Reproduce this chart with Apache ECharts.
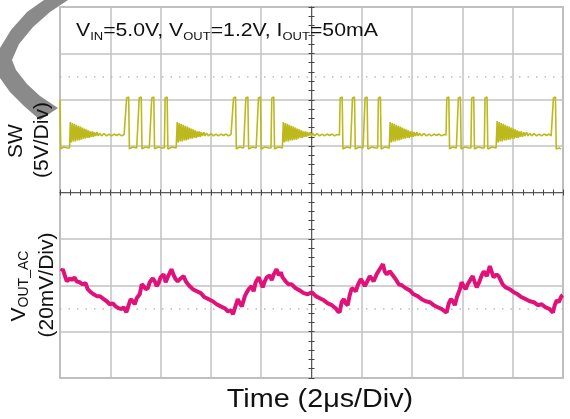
<!DOCTYPE html>
<html>
<head>
<meta charset="utf-8">
<script src="https://cdn.jsdelivr.net/npm/echarts@6/dist/echarts.min.js"></script>
<style>
  html, body { margin: 0; padding: 0; background: #fff; }
  #chart { width: 570px; height: 419px; }
</style>
</head>
<body>
<div id="chart"></div>
<script>
// time axis: 2 us/div, 10 divisions
const timeTicks = [0, 2, 4, 6, 8, 10, 12, 14, 16, 18, 20];

// SW node voltage [time us, volts], 5 V/div
const swTrace = [
  // tail of previous pulse at the left edge
  [0.00, 5.0], [0.03, -0.3], [0.15, -0.1], [0.30, -0.2], [0.38, -0.2],
  // ringing after burst
  [0.41, 2.6], [0.45, 0.4], [0.49, 2.5], [0.53, 0.5], [0.57, 2.4], [0.61, 0.5], [0.65, 2.3], [0.69, 0.6],
  [0.73, 2.2], [0.77, 0.6], [0.81, 2.1], [0.85, 0.7], [0.89, 2.0], [0.93, 0.8], [0.97, 1.9], [1.01, 0.8],
  [1.05, 1.8], [1.09, 0.9], [1.13, 1.7], [1.17, 0.9], [1.21, 1.6], [1.25, 1.0], [1.29, 1.6], [1.33, 1.0],
  [1.37, 1.5], [1.42, 1.1], [1.47, 1.5], [1.52, 1.1], [1.58, 1.4], [1.65, 1.1],
  // idle (Vout level)
  [1.75, 1.35], [1.85, 1.1], [1.95, 1.3], [2.05, 1.1], [2.15, 1.3], [2.25, 1.15], [2.35, 1.3], [2.45, 1.1],
  [2.55, 1.25], [2.62, 1.2],
  // burst 1
  [2.65, 5.2], [2.73, 5.3], [2.76, -0.3], [2.90, -0.1], [3.05, -0.2], [3.12, -0.2],
  [3.15, 5.2], [3.23, 5.3], [3.26, -0.3], [3.40, -0.1], [3.55, -0.2], [3.62, -0.2],
  [3.65, 5.2], [3.73, 5.3], [3.76, -0.3], [3.90, -0.1], [4.05, -0.2], [4.15, -0.2],
  [4.18, 5.2], [4.26, 5.3], [4.29, -0.3], [4.45, -0.1], [4.62, -0.2],
  [4.66, 2.6], [4.70, 0.4], [4.74, 2.5], [4.78, 0.5], [4.82, 2.4], [4.86, 0.5], [4.90, 2.3], [4.94, 0.6],
  [4.98, 2.2], [5.02, 0.6], [5.06, 2.1], [5.10, 0.7], [5.14, 2.0], [5.18, 0.8], [5.22, 1.9], [5.26, 0.8],
  [5.30, 1.8], [5.34, 0.9], [5.38, 1.7], [5.42, 0.9], [5.46, 1.6], [5.50, 1.0], [5.54, 1.6], [5.58, 1.0],
  [5.62, 1.5], [5.67, 1.1], [5.72, 1.5], [5.77, 1.1], [5.83, 1.4], [5.90, 1.1],
  [6.00, 1.35], [6.10, 1.1], [6.20, 1.3], [6.30, 1.1], [6.40, 1.3], [6.50, 1.15], [6.60, 1.3], [6.70, 1.1],
  [6.80, 1.25], [6.87, 1.2],
  // burst 2
  [6.90, 5.2], [6.98, 5.3], [7.01, -0.3], [7.15, -0.1], [7.30, -0.2], [7.36, -0.2],
  [7.39, 5.2], [7.47, 5.3], [7.50, -0.3], [7.65, -0.1], [7.80, -0.2], [7.86, -0.2],
  [7.89, 5.2], [7.97, 5.3], [8.00, -0.3], [8.15, -0.1], [8.30, -0.2], [8.39, -0.2],
  [8.42, 5.2], [8.50, 5.3], [8.53, -0.3], [8.68, -0.1], [8.84, -0.2],
  [8.88, 2.6], [8.92, 0.4], [8.96, 2.5], [9.00, 0.5], [9.04, 2.4], [9.08, 0.5], [9.12, 2.3], [9.16, 0.6],
  [9.20, 2.2], [9.24, 0.6], [9.28, 2.1], [9.32, 0.7], [9.36, 2.0], [9.40, 0.7], [9.44, 1.9], [9.48, 0.8],
  [9.52, 1.8], [9.56, 0.9], [9.60, 1.7], [9.64, 0.9], [9.68, 1.6], [9.72, 1.0], [9.76, 1.6], [9.80, 1.0],
  [9.84, 1.5], [9.89, 1.1], [9.94, 1.5], [9.99, 1.1], [10.05, 1.4], [10.12, 1.1],
  [10.22, 1.35], [10.32, 1.1], [10.42, 1.3], [10.52, 1.1], [10.62, 1.3], [10.72, 1.15], [10.82, 1.3],
  [10.92, 1.1], [11.02, 1.25], [11.11, 1.2],
  // burst 3
  [11.14, 5.2], [11.22, 5.3], [11.25, -0.3], [11.40, -0.1], [11.55, -0.2], [11.60, -0.2],
  [11.63, 5.2], [11.71, 5.3], [11.74, -0.3], [11.90, -0.1], [12.05, -0.2], [12.10, -0.2],
  [12.13, 5.2], [12.21, 5.3], [12.24, -0.3], [12.40, -0.1], [12.55, -0.2], [12.63, -0.2],
  [12.66, 5.2], [12.74, 5.3], [12.77, -0.3], [12.92, -0.1], [13.09, -0.2],
  [13.13, 2.6], [13.17, 0.4], [13.21, 2.5], [13.25, 0.5], [13.29, 2.4], [13.33, 0.5], [13.37, 2.3], [13.41, 0.6],
  [13.45, 2.2], [13.49, 0.6], [13.53, 2.1], [13.57, 0.7], [13.61, 2.0], [13.65, 0.8], [13.69, 1.9], [13.73, 0.8],
  [13.77, 1.8], [13.81, 0.9], [13.85, 1.7], [13.89, 0.9], [13.93, 1.6], [13.97, 1.0], [14.01, 1.6], [14.05, 1.0],
  [14.09, 1.5], [14.14, 1.1], [14.19, 1.5], [14.24, 1.1], [14.30, 1.4], [14.37, 1.1],
  [14.47, 1.35], [14.57, 1.1], [14.67, 1.3], [14.77, 1.1], [14.87, 1.3], [14.97, 1.15], [15.07, 1.3],
  [15.17, 1.1], [15.27, 1.25], [15.35, 1.2],
  // burst 4
  [15.38, 5.2], [15.46, 5.3], [15.49, -0.3], [15.62, -0.1], [15.76, -0.2], [15.81, -0.2],
  [15.84, 5.2], [15.92, 5.3], [15.95, -0.3], [16.10, -0.1], [16.25, -0.2], [16.34, -0.2],
  [16.37, 5.2], [16.45, 5.3], [16.48, -0.3], [16.63, -0.1], [16.78, -0.2], [16.87, -0.2],
  [16.90, 5.2], [16.98, 5.3], [17.01, -0.3], [17.17, -0.1], [17.34, -0.2],
  [17.38, 2.7], [17.42, 0.4], [17.46, 2.6], [17.50, 0.5], [17.54, 2.5], [17.58, 0.5], [17.62, 2.4], [17.66, 0.6],
  [17.70, 2.3], [17.74, 0.6], [17.78, 2.2], [17.82, 0.7], [17.86, 2.1], [17.90, 0.7], [17.94, 2.0], [17.98, 0.8],
  [18.02, 1.9], [18.06, 0.8], [18.10, 1.8], [18.14, 0.9], [18.18, 1.7], [18.22, 0.9], [18.26, 1.6], [18.30, 1.0],
  [18.34, 1.6], [18.39, 1.0], [18.44, 1.5], [18.49, 1.1], [18.55, 1.5], [18.61, 1.1], [18.68, 1.4], [18.75, 1.1],
  [18.85, 1.35], [18.95, 1.1], [19.05, 1.3], [19.15, 1.1], [19.25, 1.3], [19.35, 1.15], [19.45, 1.3],
  [19.53, 1.1], [19.59, 1.2],
  // burst 5 (first pulse, cut at right edge)
  [19.62, 5.2], [19.70, 5.3], [19.73, -0.3], [19.85, -0.2], [19.92, -0.3]
];

// output ripple, AC coupled [time us, mV], 20 mV/div
const voutTrace = [
  [0.05, 6.0], [0.11, 6.9], [0.19, 4.3], [0.27, 1.7], [0.39, 3.0], [0.47, 2.2], [0.58, 3.4], [0.66, 1.7],
  [0.78, 1.3], [0.90, 0.4], [1.02, 0.9], [1.10, -1.7], [1.22, -3.0], [1.34, -3.9], [1.46, -4.7], [1.58, -4.7],
  [1.74, -6.0], [1.86, -6.9], [1.98, -8.2], [2.10, -7.8], [2.21, -9.1], [2.33, -9.9], [2.45, -10.3], [2.53, -9.5],
  [2.64, -11.6], [2.73, -8.6], [2.81, -6.0], [2.89, -6.9], [2.97, -8.2], [3.05, -5.6], [3.17, -3.9], [3.25, 0.4],
  [3.33, -0.4], [3.41, -1.7], [3.49, -1.3], [3.57, 1.3], [3.69, 3.0], [3.77, 1.7], [3.84, -0.4], [3.92, 0.9],
  [4.00, 3.4], [4.12, 4.7], [4.20, 1.3], [4.28, 3.4], [4.43, 6.9], [4.52, 4.3], [4.60, 2.6], [4.68, 1.7],
  [4.80, 3.0], [4.92, 3.9], [5.00, 1.7], [5.12, 0.0], [5.28, -1.7], [5.44, -2.6], [5.60, -3.4], [5.75, -5.2],
  [5.91, -6.0], [6.07, -6.9], [6.23, -8.2], [6.39, -9.1], [6.55, -9.9], [6.67, -11.2], [6.79, -10.8], [6.88, -12.5],
  [6.99, -8.6], [7.07, -6.0], [7.15, -7.8], [7.23, -9.1], [7.35, -4.7], [7.43, -3.0], [7.50, -1.7], [7.62, -0.4],
  [7.70, -2.6], [7.78, 1.3], [7.90, 3.4], [7.98, 1.3], [8.06, -0.9], [8.14, 1.7], [8.22, 3.4], [8.34, 4.3],
  [8.42, 2.2], [8.50, 4.7], [8.61, 6.9], [8.70, 4.3], [8.78, 5.6], [8.85, 3.4], [8.97, 1.7], [9.09, 0.4],
  [9.21, 0.4], [9.37, -1.3], [9.53, -2.2], [9.69, -3.4], [9.85, -3.9], [10.01, -3.0], [10.17, -4.7], [10.33, -5.6],
  [10.49, -6.5], [10.65, -7.8], [10.81, -8.6], [10.96, -9.9], [11.04, -11.2], [11.12, -11.6], [11.20, -7.3],
  [11.28, -6.0], [11.36, -7.8], [11.44, -8.6], [11.52, -4.3], [11.60, -1.3], [11.68, -1.7], [11.76, -2.6],
  [11.84, 0.0], [11.96, 2.6], [12.04, 1.3], [12.12, -0.4], [12.20, 1.3], [12.32, 3.9], [12.39, 3.0], [12.47, 1.7],
  [12.59, 4.7], [12.71, 6.9], [12.84, 9.1], [12.91, 6.0], [12.99, 4.7], [13.11, 6.0], [13.23, 4.3], [13.35, 2.6],
  [13.47, 0.4], [13.59, 0.0], [13.75, -1.3], [13.91, -2.2], [14.06, -3.9], [14.22, -4.7], [14.38, -6.0],
  [14.54, -6.9], [14.70, -7.3], [14.86, -8.6], [15.02, -9.5], [15.18, -10.3], [15.37, -11.8], [15.46, -7.8],
  [15.54, -6.0], [15.62, -6.9], [15.70, -8.6], [15.78, -5.2], [15.90, -1.7], [15.97, 1.3], [16.05, -0.4],
  [16.13, -1.7], [16.21, 0.4], [16.33, 2.6], [16.41, 3.9], [16.49, 1.3], [16.57, -0.9], [16.65, 0.9], [16.77, 4.3],
  [16.85, 6.0], [16.97, 3.9], [17.09, 8.3], [17.16, 6.0], [17.24, 3.4], [17.36, 4.7], [17.44, 3.9], [17.52, 2.2],
  [17.60, 0.4], [17.72, -0.9], [17.88, -1.7], [18.04, -3.0], [18.20, -3.9], [18.36, -5.2], [18.52, -6.0],
  [18.68, -6.9], [18.84, -7.3], [19.00, -8.6], [19.15, -8.2], [19.31, -9.5], [19.47, -10.3], [19.60, -11.8],
  [19.67, -8.6], [19.75, -6.5], [19.83, -7.3], [19.94, -4.7], [19.99, -4.3]
];

const swLevels = [-25, -20, -15, -10, -5, 0, 5, 10, 15];
const voutLevels = [-40, -20, 0, 20, 40, 60, 80, 100, 120];
const swRefLevel = 7.5;     // dotted reference row, top half
const voutRefLevel = -10;   // dotted reference row, bottom half

const FONT = '"Liberation Sans", Arial, sans-serif';
const GRID_COLOR = '#c2c2c2';

const chart = echarts.init(document.getElementById('chart'));

function centerAxis(min, max, interval, inside) {
  return {
    type: 'value', min: min, max: max, interval: interval,
    axisLine: { show: true, lineStyle: { color: '#5a5a5a', width: 1 } },
    axisTick: { show: true, inside: inside, length: 3, lineStyle: { color: '#444' } },
    minorTick: { show: true, splitNumber: 5, length: 3, lineStyle: { color: '#444' } },
    axisLabel: { show: false },
    splitLine: { show: false }
  };
}

chart.setOption({
  animation: false,
  backgroundColor: '#fff',
  grid: {
    left: 60, right: 7, top: 7, bottom: 41,
    show: true, backgroundColor: '#fff',
    borderColor: '#a0a0a0', borderWidth: 1.5
  },
  xAxis: [
    {
      type: 'value', min: timeTicks[0], max: timeTicks[timeTicks.length - 1], interval: 2,
      axisLine: { show: false }, axisTick: { show: false }, axisLabel: { show: false },
      splitLine: { show: true, lineStyle: { color: GRID_COLOR, width: 1.5 } }
    },
    Object.assign(centerAxis(0, 20, 2, false), { position: 'bottom', offset: -185.5 }),
    Object.assign(centerAxis(0, 20, 2, true), { position: 'bottom', offset: -185.5 })
  ],
  yAxis: [
    {
      type: 'value', min: swLevels[0], max: swLevels[swLevels.length - 1], interval: 5,
      axisLine: { show: false }, axisTick: { show: false }, axisLabel: { show: false },
      splitLine: { show: true, lineStyle: { color: GRID_COLOR, width: 1.5 } }
    },
    {
      type: 'value', min: voutLevels[0], max: voutLevels[voutLevels.length - 1], interval: 20,
      axisLine: { show: false }, axisTick: { show: false }, axisLabel: { show: false },
      splitLine: { show: false }
    },
    Object.assign(centerAxis(0, 8, 1, false), { position: 'left', offset: -251.5 }),
    Object.assign(centerAxis(0, 8, 1, true), { position: 'left', offset: -251.5 })
  ],
  series: [
    {
      name: 'SW', type: 'line', xAxisIndex: 0, yAxisIndex: 0,
      data: swTrace, showSymbol: false, z: 5,
      lineStyle: { color: '#bdb91c', width: 1.6 },
      markLine: {
        silent: true, symbol: 'none', label: { show: false },
        lineStyle: { color: '#bcbcbc', type: [1.5, 7], width: 1.5 },
        data: [{ yAxis: swRefLevel }]
      }
    },
    {
      name: 'VOUT_AC', type: 'line', xAxisIndex: 0, yAxisIndex: 1,
      data: voutTrace, showSymbol: false, z: 5,
      lineStyle: { color: '#e0127a', width: 4 },
      markLine: {
        silent: true, symbol: 'none', label: { show: false },
        lineStyle: { color: '#bcbcbc', type: [1.5, 7], width: 1.5 },
        data: [{ yAxis: voutRefLevel }]
      }
    }
  ],
  graphic: [
    // gray arrow cut off from the figure above
    {
      type: 'polygon', z: -10,
      shape: { points: [[68, 0], [44, 0], [27, 12], [11, 30], [0, 48], [0, 78], [10, 92], [24, 106],
                        [40, 120], [58, 108], [40, 96], [27, 84], [16, 70], [12, 60], [19, 44], [33, 27], [50, 12]] },
      style: { fill: '#8a8a8a' }
    },
    {
      type: 'text', x: 76, y: 31, scaleX: 1.18, z: 10,
      style: {
        text: '{m|V}{s|IN}{m|=5.0V, V}{s|OUT}{m|=1.2V, I}{s|OUT}{m|=50mA}',
        verticalAlign: 'middle',
        rich: {
          m: { fontSize: 18, fontFamily: FONT, fill: '#111', lineHeight: 22 },
          s: { fontSize: 11, fontFamily: FONT, fill: '#111', lineHeight: 14, verticalAlign: 'bottom' }
        }
      }
    },
    {
      type: 'text', x: 16, y: 141, rotation: Math.PI / 2, z: 10,
      style: { text: 'SW', fontSize: 21, fontFamily: FONT, fill: '#111', align: 'center', verticalAlign: 'middle' }
    },
    {
      type: 'text', x: 42, y: 140, rotation: Math.PI / 2, z: 10,
      style: { text: '(5V/Div)', fontSize: 21, fontFamily: FONT, fill: '#111', align: 'center', verticalAlign: 'middle' }
    },
    {
      type: 'text', x: 19, y: 286, rotation: Math.PI / 2, z: 10,
      style: {
        text: '{m|V}{s|OUT_AC}',
        align: 'center', verticalAlign: 'middle',
        rich: {
          m: { fontSize: 21, fontFamily: FONT, fill: '#111', lineHeight: 24 },
          s: { fontSize: 14, fontFamily: FONT, fill: '#111', lineHeight: 16, verticalAlign: 'bottom' }
        }
      }
    },
    {
      type: 'text', x: 47, y: 285, rotation: Math.PI / 2, z: 10,
      style: { text: '(20mV/Div)', fontSize: 21, fontFamily: FONT, fill: '#111', align: 'center', verticalAlign: 'middle' }
    },
    {
      type: 'text', x: 320, y: 400, scaleX: 1.15, z: 10,
      style: { text: 'Time (2μs/Div)', fontSize: 25, fontFamily: FONT, fill: '#111', align: 'center', verticalAlign: 'middle' }
    }
  ]
});
</script>
</body>
</html>
